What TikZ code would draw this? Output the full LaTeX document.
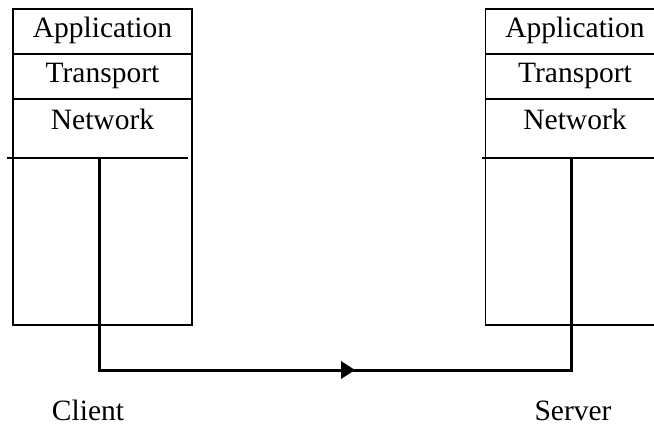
\documentclass[tikz,border=0pt]{standalone}
\usepackage{fontspec}
\setmainfont{Liberation Serif}
\begin{document}
\begin{tikzpicture}[x=1pt,y=-1pt,
  txt/.style={font=\fontsize{29.5}{30}\selectfont},
  layer/.style={draw, line width=1.5pt, minimum width=179pt, minimum height=45pt,
    inner sep=0pt, text height=20pt, text depth=9pt, txt},
  lowerbox/.style={draw, line width=1.5pt, minimum width=179pt, minimum height=226pt, inner sep=0pt},
  divider/.style={line width=1.5pt},
  wire/.style={line width=3pt, line join=miter},
  lbl/.style={anchor=base, inner sep=0pt, txt}]
\path[use as bounding box, clip] (0,0) rectangle (654,426);
% client stack
\node[layer] (capp) at (102.5,31.5) {Application};
\node[layer] (ctra) at (102.5,76.5) {Transport};
\node[lowerbox] (cnet) at (102.5,212) {};
\node[lbl] (cnetl) at (102.5,129) {Network};
\draw[divider] (7,158) -- (188,158);
% server stack
\node[layer] (sapp) at (575,31.5) {Application};
\node[layer] (stra) at (575,76.5) {Transport};
\node[lowerbox] (snet) at (575,212) {};
\node[lbl] (snetl) at (575,129) {Network};
\draw[divider] (482,158) -- (660,158);
% connector
\coordinate (cp) at (99,158);
\coordinate (sp) at (571,158);
\coordinate (tip) at (355,370);
\draw[wire] (cp) |- (tip) -| (sp);
\fill ([xshift=-14pt,yshift=9pt]tip) -- (tip) -- ([xshift=-14pt,yshift=-9pt]tip) -- cycle;
% labels
\node[lbl] (client) at (88,420) {Client};
\node[lbl] (server) at (573,420) {Server};
\end{tikzpicture}
\end{document}
